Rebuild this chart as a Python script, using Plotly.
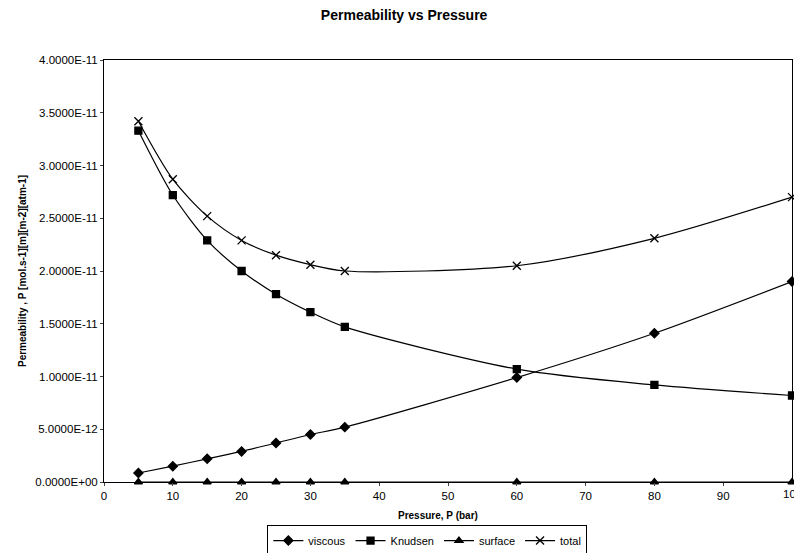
import plotly.graph_objects as go

# Pressure (bar)
pressure = [5, 10, 15, 20, 25, 30, 35, 60, 80, 100]

# Permeability contributions [mol.s-1][m][m-2][atm-1]
viscous = [0.085e-11, 0.15e-11, 0.22e-11, 0.29e-11, 0.37e-11, 0.45e-11, 0.52e-11, 0.99e-11, 1.41e-11, 1.90e-11]
knudsen = [3.33e-11, 2.72e-11, 2.29e-11, 2.00e-11, 1.78e-11, 1.61e-11, 1.47e-11, 1.07e-11, 0.92e-11, 0.82e-11]
surface = [0, 0, 0, 0, 0, 0, 0, 0, 0, 0]
total = [3.42e-11, 2.87e-11, 2.52e-11, 2.29e-11, 2.15e-11, 2.06e-11, 2.00e-11, 2.05e-11, 2.31e-11, 2.70e-11]

y_tickvals = [0, 0.5e-11, 1.0e-11, 1.5e-11, 2.0e-11, 2.5e-11, 3.0e-11, 3.5e-11, 4.0e-11]
y_ticktext = ["0.0000E+00", "5.0000E-12", "1.0000E-11", "1.5000E-11", "2.0000E-11",
              "2.5000E-11", "3.0000E-11", "3.5000E-11", "4.0000E-11"]
x_tickvals = [0, 10, 20, 30, 40, 50, 60, 70, 80, 90]
x_last_tick = 100

FONT = "Liberation Sans, Arial, sans-serif"
TICK_SIZE = 11.5

series = [
    ("viscous", viscous, "diamond", 7),
    ("Knudsen", knudsen, "square", 7),
    ("surface", surface, "triangle-up", 7),
    ("total", total, "x-thin", 8),
]

fig = go.Figure()
for name, vals, sym, size in series:
    fig.add_trace(go.Scatter(
        x=pressure, y=vals, name=name,
        mode="lines+markers",
        line=dict(color="black", width=1.2, shape="spline", smoothing=0.8),
        marker=dict(symbol=sym, size=size, color="black",
                    line=dict(color="black", width=1.3)),
        cliponaxis=False,
    ))

fig.update_layout(
    width=794, height=553,
    margin=dict(l=104, r=2, t=60, b=71, autoexpand=False),
    paper_bgcolor="white", plot_bgcolor="white",
    font=dict(family=FONT, size=TICK_SIZE, color="black"),
    title=dict(text="<b>Permeability vs Pressure</b>", x=0.509, xanchor="center",
               y=0.972, yanchor="middle", font=dict(family=FONT, size=14, color="black")),
    showlegend=True,
    legend=dict(orientation="h", x=0.47, xanchor="center", y=-0.102, yanchor="top",
                bordercolor="black", borderwidth=1, bgcolor="white",
                font=dict(family=FONT, size=11, color="black"),
                itemwidth=30, tracegroupgap=0),
)

# last x tick label sits at the right edge of the page
fig.add_annotation(x=x_last_tick, y=0, xref="x", yref="paper", yshift=-4,
                   text=str(x_last_tick), showarrow=False, yanchor="top",
                   xanchor="center", font=dict(family=FONT, size=TICK_SIZE, color="black"))

# x axis title
fig.add_annotation(x=0.485, y=515, xref="paper", yref="paper", text="<b>Pressure, P (bar)</b>",
                   showarrow=False, xanchor="center", yanchor="middle",
                   font=dict(family=FONT, size=10, color="black"))
fig.layout.annotations[-1].y = (482 - 515) / 422

fig.update_xaxes(
    range=[0, 100], tickvals=x_tickvals, ticks="outside", ticklen=3,
    showgrid=False, zeroline=False, automargin=False,
    showline=True, linecolor="black", linewidth=1, mirror=True,
    tickfont=dict(family=FONT, size=TICK_SIZE, color="black"),
)
fig.update_yaxes(
    range=[0, 4.0e-11], tickvals=y_tickvals, ticktext=y_ticktext,
    ticks="outside", ticklen=3, automargin=False,
    showgrid=False, zeroline=False,
    showline=True, linecolor="black", linewidth=1, mirror=True,
    tickfont=dict(family=FONT, size=TICK_SIZE, color="black"),
    title=dict(text="<b>Permeability , P [mol.s-1][m][m-2][atm-1]</b>", standoff=6,
               font=dict(family=FONT, size=10, color="black")),
)

fig.write_html("out.html")
